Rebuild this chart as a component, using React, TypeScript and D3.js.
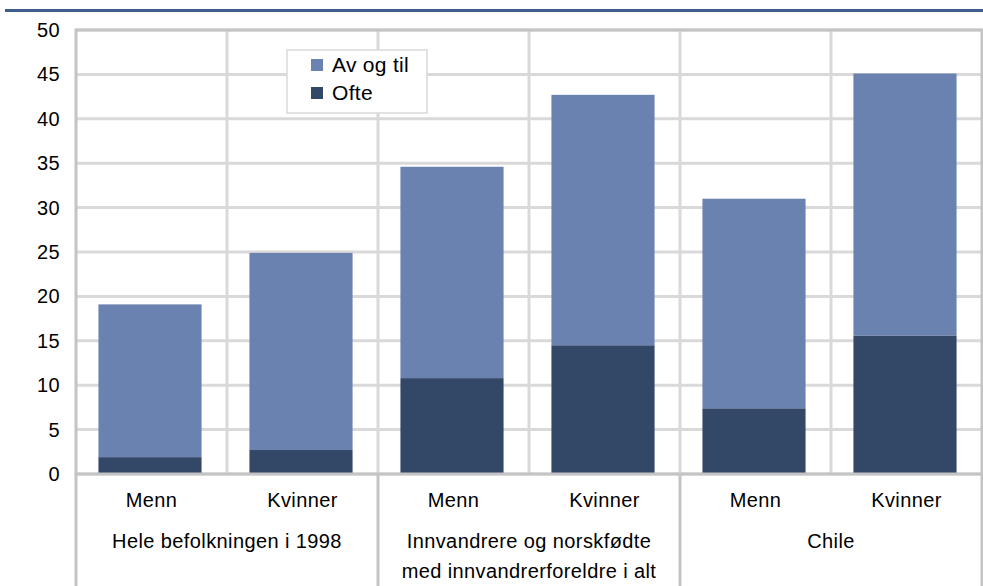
import React from 'react';
import * as d3 from 'd3';

const categories = ['Menn', 'Kvinner', 'Menn', 'Kvinner', 'Menn', 'Kvinner'];
const groups = [
  ['Hele befolkningen i 1998'],
  ['Innvandrere og norskfødte', 'med innvandrerforeldre i alt'],
  ['Chile'],
];
const ofte = [1.9, 2.7, 10.8, 14.5, 7.4, 15.6];
const avOgTil = [17.2, 22.2, 23.8, 28.2, 23.6, 29.5];
const yTicks = [0, 5, 10, 15, 20, 25, 30, 35, 40, 45, 50];
const seriesNames = ['Av og til', 'Ofte'];

const W = 983;
const H = 586;
const left = 76;
const right = 982;
const top = 30;
const bottom = 474;

const LIGHT = '#6a82b0';
const DARK = '#334767';
const GRID = '#d9d9d9';
const BORDER = '#c4c4c4';
const FONT = '"Liberation Sans", Arial, sans-serif';
const FS = 20;
const LS = 0.4;

export default function App() {
  const idx = categories.map((_, i) => String(i));
  const x = d3.scaleBand<string>().domain(idx).range([left, right]).paddingInner(0.317).paddingOuter(0.1585);
  const y = d3.scaleLinear().domain([0, 50]).range([bottom, top]);
  const step = x.step();

  const stacked = d3.stack<number>()
    .keys(['ofte', 'av'])
    .value((i, key) => (key === 'ofte' ? ofte[i] : avOgTil[i]))(d3.range(categories.length));

  const colors = { ofte: DARK, av: LIGHT };

  return (
    <svg width={W} height={H} style={{ position: 'absolute', left: 0, top: 0, background: '#fff' }}>
      <rect width={W} height={H} fill="#fff" />
      <line x1={5} x2={W} y1={10.5} y2={10.5} stroke="#3f5e8a" strokeWidth={3} />

      {/* horizontal grid */}
      {yTicks.map((t) => (
        <line key={'h' + t} x1={left} x2={right} y1={y(t)} y2={y(t)} stroke={GRID} strokeWidth={3} />
      ))}
      {/* vertical grid between categories */}
      {d3.range(1, categories.length).map((i) => (
        <line key={'v' + i} x1={left + i * step} x2={left + i * step} y1={top} y2={bottom} stroke={GRID} strokeWidth={3} />
      ))}

      {/* bars */}
      {stacked.map((s) => (
        <g key={s.key} fill={colors[s.key as 'ofte' | 'av']}>
          {s.map((d, i) => (
            <rect key={i} x={(x(String(i)) as number) - 1.5} width={x.bandwidth()} y={y(d[1])} height={y(d[0]) - y(d[1])} />
          ))}
        </g>
      ))}

      {/* plot border */}
      <rect x={left} y={top} width={right - left} height={bottom - top} fill="none" stroke={BORDER} strokeWidth={3} />

      {/* separators below axis */}
      {[0, 2, 4, 6].map((i) => (
        <line key={'s' + i} x1={left + i * step} x2={left + i * step} y1={bottom} y2={H} stroke={BORDER} strokeWidth={3} />
      ))}

      {/* y tick labels */}
      {yTicks.map((t) => (
        <text key={'t' + t} x={60} y={y(t)} dy="0.35em" textAnchor="end" fontFamily={FONT} fontSize={FS} letterSpacing={LS} fill="#000">
          {t}
        </text>
      ))}

      {/* category labels */}
      {categories.map((c, i) => (
        <text key={'c' + i} x={(x(String(i)) as number) + x.bandwidth() / 2} y={500} dy="0.35em" textAnchor="middle" fontFamily={FONT} fontSize={FS} letterSpacing={LS} fill="#000">
          {c}
        </text>
      ))}

      {/* group labels */}
      {groups.map((lines, g) => (
        <text key={'g' + g} x={left + (2 * g + 1) * step} y={541} textAnchor="middle" fontFamily={FONT} fontSize={FS} letterSpacing={LS} fill="#000">
          {lines.map((l, j) => (
            <tspan key={j} x={left + (2 * g + 1) * step} dy={j === 0 ? '0.35em' : 30}>
              {l}
            </tspan>
          ))}
        </text>
      ))}

      {/* legend */}
      <g>
        <rect x={287} y={50} width={140} height={63} fill="#fff" stroke="#d9d9d9" strokeWidth={1.5} />
        {seriesNames.map((n, i) => (
          <g key={n}>
            <rect x={311} y={59 + i * 28} width={12} height={12} fill={i === 0 ? LIGHT : DARK} />
            <text x={332} y={65 + i * 28} dy="0.35em" fontFamily={FONT} fontSize={21} letterSpacing={0.3} fill="#000">
              {n}
            </text>
          </g>
        ))}
      </g>
    </svg>
  );
}
